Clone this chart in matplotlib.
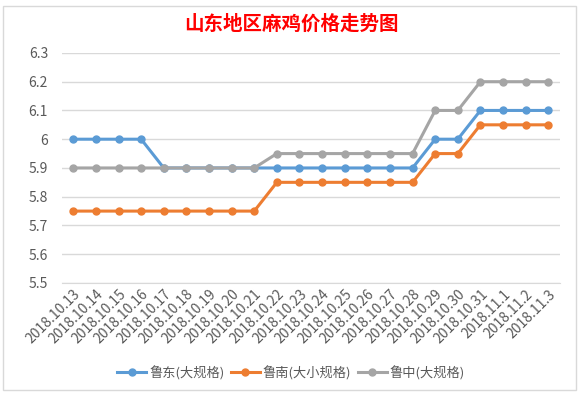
import matplotlib
matplotlib.use("Agg")
import matplotlib.pyplot as plt
from matplotlib.patches import Rectangle

plt.rcParams['font.family'] = ['Noto Sans CJK SC', 'DejaVu Sans']

# datos
fechas = ["2018.10.13", "2018.10.14", "2018.10.15", "2018.10.16", "2018.10.17",
          "2018.10.18", "2018.10.19", "2018.10.20", "2018.10.21", "2018.10.22",
          "2018.10.23", "2018.10.24", "2018.10.25", "2018.10.26", "2018.10.27",
          "2018.10.28", "2018.10.29", "2018.10.30", "2018.10.31", "2018.11.1",
          "2018.11.2", "2018.11.3"]
ludong = [6.0, 6.0, 6.0, 6.0, 5.9, 5.9, 5.9, 5.9, 5.9, 5.9, 5.9,
          5.9, 5.9, 5.9, 5.9, 5.9, 6.0, 6.0, 6.1, 6.1, 6.1, 6.1]
lunan = [5.75, 5.75, 5.75, 5.75, 5.75, 5.75, 5.75, 5.75, 5.75, 5.85, 5.85,
         5.85, 5.85, 5.85, 5.85, 5.85, 5.95, 5.95, 6.05, 6.05, 6.05, 6.05]
luzhong = [5.9, 5.9, 5.9, 5.9, 5.9, 5.9, 5.9, 5.9, 5.9, 5.95, 5.95,
           5.95, 5.95, 5.95, 5.95, 5.95, 6.1, 6.1, 6.2, 6.2, 6.2, 6.2]
series = [("鲁东(大规格)", ludong, "#5b9bd5"),
          ("鲁南(大小规格)", lunan, "#ed7d31"),
          ("鲁中(大规格)", luzhong, "#a5a5a5")]

fig = plt.figure(figsize=(5.82, 3.98), dpi=100)
ax = fig.add_axes([0.1065, 0.289, 0.855, 0.578])

x = list(range(len(fechas)))
for nombre, valores, color in series:
    ax.plot(x, valores, color=color, linewidth=2.2, marker="o", markersize=5,
            label=nombre, zorder=3)

ax.set_xlim(-0.5, len(fechas) - 0.5)
ax.set_ylim(5.5, 6.3)
ax.set_yticks([5.5, 5.6, 5.7, 5.8, 5.9, 6.0, 6.1, 6.2, 6.3])
ax.set_yticklabels(["5.5", "5.6", "5.7", "5.8", "5.9", "6", "6.1", "6.2", "6.3"])
ax.set_xticks(x)
ax.set_xticklabels(fechas, rotation=45, ha="right", rotation_mode="anchor")
ax.grid(axis="y", color="#d9d9d9", linewidth=1)
ax.set_axisbelow(True)
for s in ["top", "right", "left"]:
    ax.spines[s].set_visible(False)
ax.spines["bottom"].set_color("#d9d9d9")
ax.tick_params(axis="both", length=0, colors="#595959", labelsize=10)
ax.tick_params(axis="y", pad=10)
ax.tick_params(axis="x", pad=3)

fig.text(0.5, 0.94, "山东地区麻鸡价格走势图", ha="center", va="center",
         color="red", fontsize=14, fontweight="bold")

fig.legend(loc="center", bbox_to_anchor=(0.5, 0.063), ncol=3, frameon=False,
           fontsize=9.5, labelcolor="#595959", handlelength=2.2, columnspacing=0.5,
           handletextpad=0.2)

# borde del gráfico
fig.patches.append(Rectangle((0.005, 0.02), 0.984, 0.965, transform=fig.transFigure,
                             fill=False, edgecolor="#d9d9d9", linewidth=1))

fig.savefig("out.png", dpi=100)
